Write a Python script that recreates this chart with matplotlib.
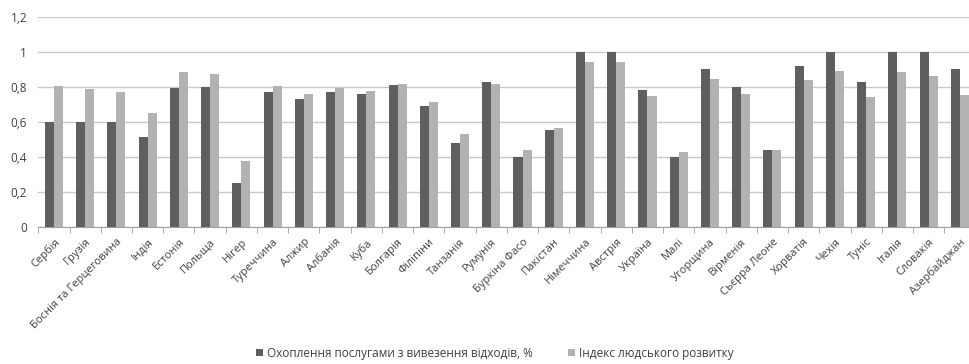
import matplotlib
matplotlib.use("Agg")
import matplotlib.pyplot as plt
import numpy as np

plt.rcParams['font.family'] = ['Open Sans', 'DejaVu Sans']

countries = ["Сербія", "Грузія", "Боснія та Герцеговина", "Індія", "Естонія", "Польща",
             "Нігер", "Туреччина", "Алжир", "Албанія", "Куба", "Болгарія", "Філіпіни",
             "Танзанія", "Румунія", "Буркіна Фасо", "Пакістан", "Німеччина", "Австрія",
             "Україна", "Малі", "Угорщина", "Вірменія", "Сьєрра Леоне", "Хорватія",
             "Чехія", "Туніс", "Італія", "Словакія", "Азербайджан"]
waste = [0.60, 0.60, 0.60, 0.51, 0.79, 0.80, 0.25, 0.77, 0.73, 0.77, 0.76, 0.81, 0.69,
         0.48, 0.825, 0.40, 0.55, 1.00, 1.00, 0.78, 0.40, 0.90, 0.80, 0.44, 0.92,
         1.00, 0.825, 1.00, 1.00, 0.90]
hdi = [0.804, 0.785, 0.771, 0.648, 0.886, 0.872, 0.375, 0.806, 0.758, 0.790, 0.777,
       0.817, 0.710, 0.528, 0.817, 0.436, 0.562, 0.939, 0.939, 0.749, 0.427, 0.844,
       0.758, 0.440, 0.838, 0.891, 0.741, 0.884, 0.859, 0.754]
series_names = ["Охоплення послугами з вивезення відходів, %", "Індекс людського розвитку"]

fig = plt.figure(figsize=(9.7, 3.64), dpi=100)
ax = fig.add_axes([38.3 / 970, 137.3 / 364, 937.2 / 970, 210 / 364])

x = np.arange(len(countries))
w = 0.29
ax.bar(x - w / 2, waste, w, color="#5f5f5f", label=series_names[0], zorder=3)
ax.bar(x + w / 2, hdi, w, color="#b2b2b2", label=series_names[1], zorder=3)

ax.set_xlim(-0.5, len(countries) - 0.5)
ax.set_ylim(0, 1.2)
ax.set_yticks(np.arange(0, 1.21, 0.2))
ax.set_yticklabels(["0", "0,2", "0,4", "0,6", "0,8", "1", "1,2"], fontsize=8.5, color="#404040")
ax.yaxis.grid(True, color="#c8c8c8", linewidth=1)
ax.set_axisbelow(True)
ax.tick_params(axis="y", length=0, pad=8)

ax.set_xticks(x)
ax.set_xticklabels(countries, rotation=45, ha="right", rotation_mode="anchor",
                   fontsize=8, color="#404040")
ax.set_xticks(np.arange(-0.5, len(countries), 1), minor=True)
ax.tick_params(axis="x", which="major", length=0, pad=7)
ax.tick_params(axis="x", which="minor", length=4, color="#a0a0a0")

for s in ["top", "right", "left"]:
    ax.spines[s].set_visible(False)
ax.spines["bottom"].set_color("#a0a0a0")

fig.legend(loc="center", bbox_to_anchor=(0.51, 0.03), ncol=2, frameon=False,
           fontsize=8.5, handlelength=0.6, handleheight=0.6, handletextpad=0.3,
           columnspacing=3, labelcolor="#404040")

fig.savefig("out.png", dpi=100)
